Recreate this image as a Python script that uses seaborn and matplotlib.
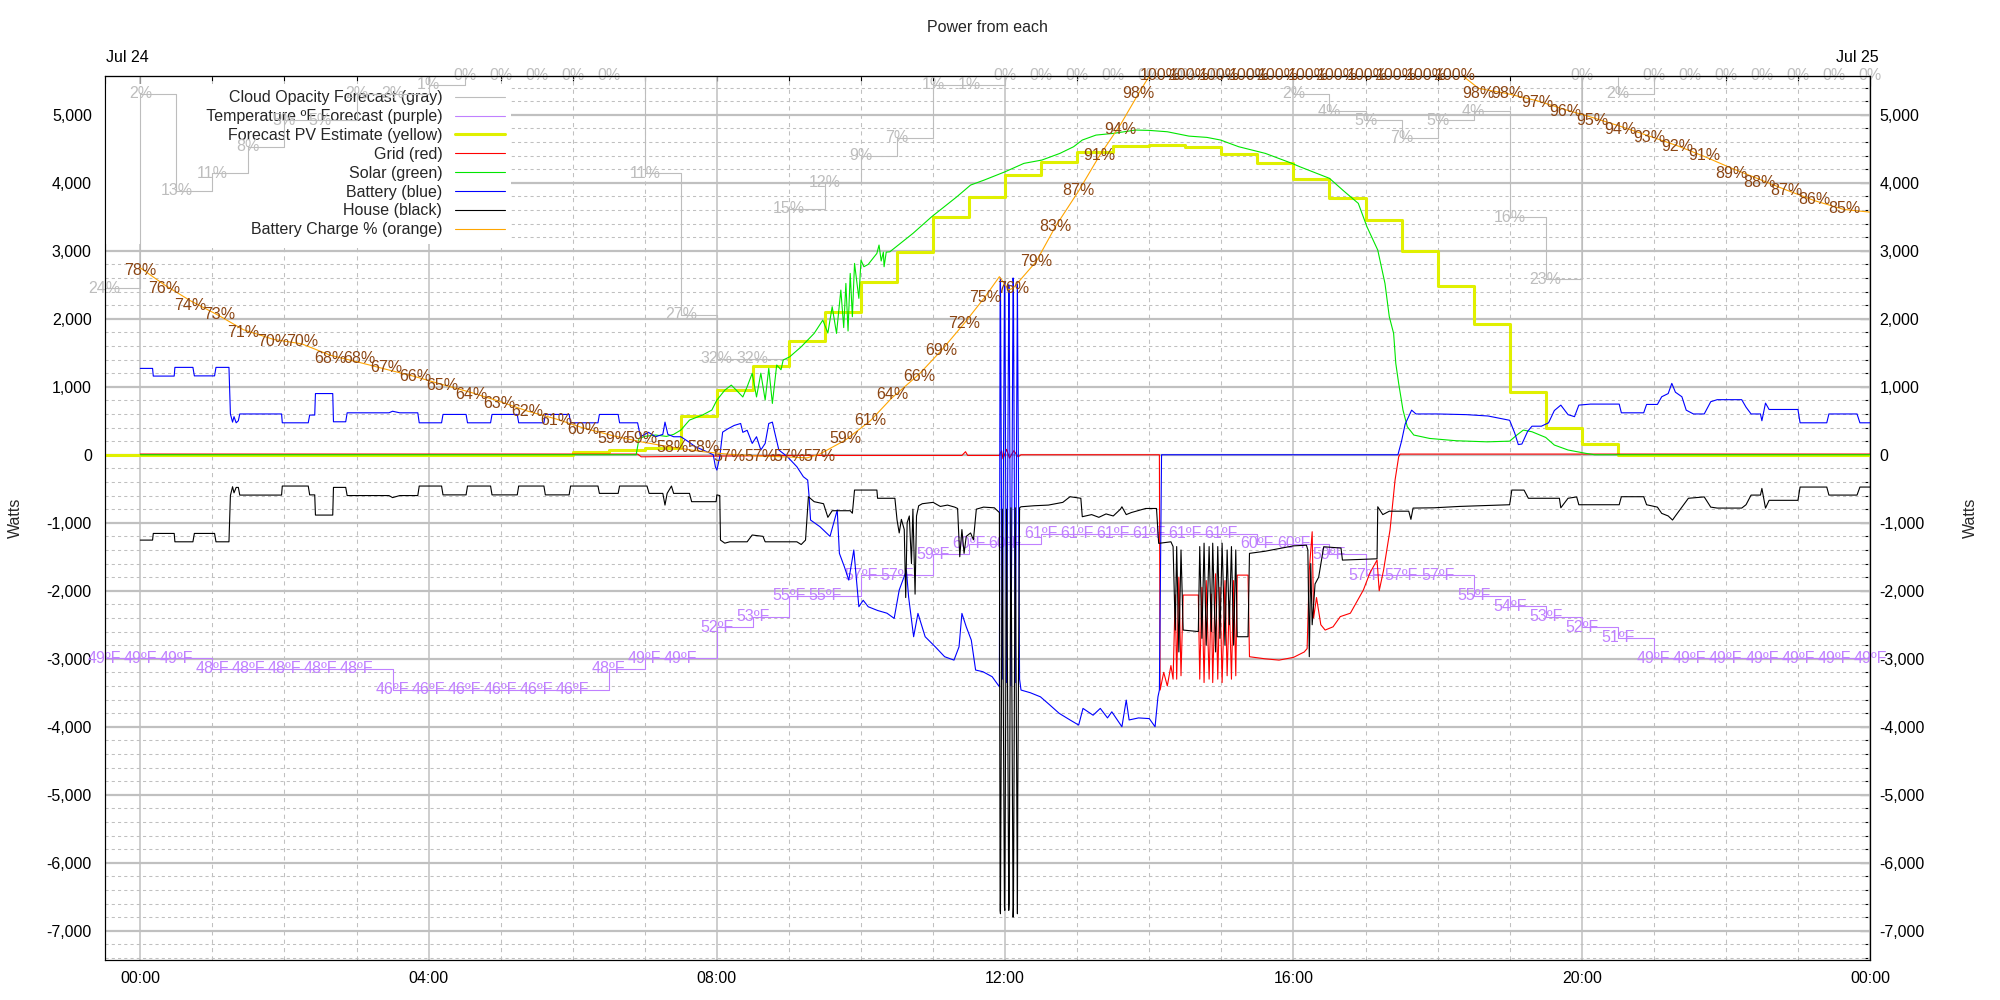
import matplotlib
matplotlib.use("Agg")
import matplotlib.pyplot as plt
import matplotlib.ticker as mticker
import matplotlib.transforms as mtransforms
import seaborn as sns

sns.set_theme(style="white")
plt.rcParams['font.family'] = ['Liberation Sans', 'DejaVu Sans']
plt.rcParams['axes.unicode_minus'] = False
FS = 11.5

# ------------------------------------------------------------------ data
forecast_hours = [-0.5, 0.0, 0.5, 1.0, 1.5, 2.0, 2.5, 3.0, 3.5, 4.0, 4.5, 5.0, 5.5, 6.0, 6.5,
                  7.0, 7.5, 8.0, 8.5, 9.0, 9.5, 10.0, 10.5, 11.0, 11.5, 12.0, 12.5, 13.0, 13.5,
                  14.0, 14.5, 15.0, 15.5, 16.0, 16.5, 17.0, 17.5, 18.0, 18.5, 19.0, 19.5, 20.0,
                  20.5, 21.0, 21.5, 22.0, 22.5, 23.0, 23.5, 24.0]
cloud_pct = [24, 2, 13, 11, 8, 5, 5, 2, 2, 1, 0, 0, 0, 0, 0, 11, 27, 32, 32, 15, 12, 9, 7, 1, 1,
             0, 0, 0, 0, 0, 0, 0, 0, 2, 4, 5, 7, 5, 4, 16, 23, 0, 2, 0, 0, 0, 0, 0, 0, 0]
temp_f = [49, 49, 49, 48, 48, 48, 48, 48, 46, 46, 46, 46, 46, 46, 48, 49, 49, 52, 53, 55, 55, 57,
          57, 59, 60, 60, 61, 61, 61, 61, 61, 61, 60, 60, 59, 57, 57, 57, 55, 54, 53, 52, 51, 49,
          49, 49, 49, 49, 49, 49]
forecast_pv = [0, 0, 0, 0, 0, 0, 0, 0, 0, 0, 0, 0, 0, 35, 70, 100, 574, 948, 1309, 1672, 2103,
               2544, 2985, 3495, 3794, 4113, 4304, 4447, 4540, 4559, 4529, 4426, 4290, 4054, 3775,
               3451, 3000, 2485, 1918, 927, 397, 153, 0, 0, 0, 0, 0, 0, 0, 0]

solar = [(0.00, 0), (6.88, 0), (6.92, 240), (7.00, 270), (7.15, 290), (7.30, 270), (7.40, 300),
         (7.50, 363), (7.62, 510), (7.80, 584), (7.93, 657), (8.00, 804), (8.11, 950), (8.20, 1024),
         (8.27, 950), (8.36, 850), (8.42, 1000), (8.49, 1197), (8.55, 850), (8.61, 1200), (8.67, 804),
         (8.72, 1271), (8.77, 755), (8.83, 1320), (8.89, 1250), (8.92, 1393), (9.01, 1440), (9.17, 1588),
         (9.35, 1785), (9.47, 1980), (9.54, 1790), (9.60, 2177), (9.66, 1785), (9.72, 2422), (9.76, 1870),
         (9.79, 2520), (9.82, 1820), (9.85, 2667), (9.88, 2030), (9.91, 2814), (9.97, 2300), (10.00, 2863),
         (10.04, 2765), (10.10, 2800), (10.22, 2961), (10.25, 3084), (10.28, 2850), (10.31, 2980),
         (10.32, 2765), (10.35, 2980), (10.40, 2985), (10.72, 3255), (10.98, 3500), (11.33, 3794),
         (11.52, 3966), (11.71, 4040), (12.00, 4162), (12.26, 4285), (12.51, 4334), (12.76, 4432),
         (12.95, 4530), (13.07, 4628), (13.26, 4701), (13.50, 4726), (13.81, 4775), (14.00, 4770),
         (14.25, 4750), (14.55, 4686), (14.80, 4667), (14.99, 4628), (15.24, 4530), (15.61, 4432),
         (15.98, 4285), (16.09, 4235), (16.50, 4065), (16.71, 3868), (16.90, 3697), (17.02, 3353),
         (17.17, 3010), (17.27, 2520), (17.33, 2030), (17.39, 1785), (17.42, 1344), (17.46, 1050),
         (17.52, 657), (17.58, 412), (17.67, 290), (17.89, 240), (18.26, 206), (18.69, 190), (19.00, 200),
         (19.10, 290), (19.19, 363), (19.31, 338), (19.50, 255), (19.62, 143), (19.81, 70), (20.06, 20),
         (20.18, 0), (24.00, 0)]

battery = [(0.00, 1270), (0.17, 1270), (0.18, 1157), (0.47, 1157), (0.48, 1285), (0.73, 1285),
           (0.75, 1160), (1.03, 1160), (1.05, 1285), (1.23, 1285), (1.25, 600), (1.28, 480), (1.30, 560),
           (1.33, 470), (1.36, 500), (1.38, 600), (1.96, 600), (1.97, 470), (2.33, 470), (2.35, 584),
           (2.42, 584), (2.43, 900), (2.67, 900), (2.68, 485), (2.85, 485), (2.87, 617), (3.45, 617),
           (3.50, 640), (3.60, 617), (3.85, 617), (3.87, 470), (4.18, 470), (4.20, 593), (4.52, 593),
           (4.54, 470), (4.86, 470), (4.88, 593), (5.23, 593), (5.25, 470), (5.60, 470), (5.62, 593),
           (5.95, 593), (5.97, 470), (6.35, 470), (6.37, 593), (6.63, 593), (6.65, 470), (6.90, 470),
           (6.94, 265), (7.05, 330), (7.15, 265), (7.25, 300), (7.28, 480), (7.32, 300), (7.40, 265),
           (7.50, 265), (7.60, 196), (7.70, 120), (7.85, 50), (7.95, 0), (7.98, -180), (8.00, -225),
           (8.04, -29), (8.08, 333), (8.15, 380), (8.24, 431), (8.33, 460), (8.36, 330), (8.42, 360),
           (8.49, 167), (8.55, 265), (8.61, 70), (8.67, 167), (8.72, 460), (8.77, 480), (8.80, 340),
           (8.86, 70), (8.98, -30), (9.11, -176), (9.20, -323), (9.26, -372), (9.28, -617), (9.30, -960),
           (9.43, -1058), (9.57, -1200), (9.67, -813), (9.70, -1450), (9.77, -1650), (9.83, -1843),
           (9.90, -1400), (9.97, -2235), (10.03, -2140), (10.10, -2235), (10.23, -2290), (10.36, -2330),
           (10.46, -2406), (10.53, -1990), (10.63, -1700), (10.66, -2088), (10.73, -2676), (10.79, -2333),
           (10.89, -2676), (11.03, -2824), (11.16, -2970), (11.29, -3020), (11.36, -2824), (11.40, -2333),
           (11.46, -2530), (11.53, -2725), (11.59, -3166), (11.69, -3190), (11.82, -3264), (11.92, -3412),
           (11.93, 2500), (11.935, 2600), (11.96, -3300), (11.99, 2450), (11.995, 2550), (12.02, -3350),
           (12.05, 2500), (12.055, 2400), (12.08, -3400), (12.11, 2600), (12.115, 2450), (12.14, -3350),
           (12.17, 2550), (12.175, 1500), (12.20, -3300), (12.22, -3460), (12.35, -3500), (12.49, -3560),
           (12.62, -3680), (12.75, -3803), (12.90, -3900), (13.02, -3975), (13.08, -3730), (13.22, -3830),
           (13.32, -3730), (13.42, -3870), (13.48, -3780), (13.62, -4000), (13.68, -3608), (13.72, -3900),
           (13.85, -3870), (14.00, -3880), (14.08, -4000), (14.12, -3560), (14.14, -3460), (14.17, 0),
           (17.45, 0), (17.50, 200), (17.55, 450), (17.64, 656), (17.70, 600), (18.00, 600), (18.40, 590),
           (18.70, 570), (19.00, 507), (19.07, 320), (19.12, 150), (19.17, 158), (19.25, 345), (19.31, 420),
           (19.44, 420), (19.54, 470), (19.62, 650), (19.71, 730), (19.81, 590), (19.90, 560), (19.96, 730),
           (20.12, 745), (20.52, 745), (20.55, 617), (20.86, 617), (20.90, 740), (21.05, 740), (21.11, 853),
           (21.20, 900), (21.25, 1050), (21.30, 920), (21.39, 853), (21.45, 656), (21.55, 600), (21.70, 600),
           (21.79, 780), (21.88, 810), (22.22, 810), (22.28, 700), (22.35, 600), (22.48, 600), (22.50, 500),
           (22.55, 760), (22.60, 666), (23.00, 666), (23.03, 470), (23.40, 470), (23.43, 600), (23.82, 600),
           (23.86, 470), (24.00, 470)]

house = [(0.00, -1255), (0.17, -1255), (0.18, -1157), (0.47, -1157), (0.48, -1280), (0.73, -1280),
         (0.75, -1157), (1.03, -1157), (1.05, -1280), (1.23, -1280), (1.25, -600), (1.28, -470),
         (1.30, -560), (1.33, -480), (1.36, -480), (1.38, -593), (1.96, -593), (1.97, -460), (2.33, -460),
         (2.35, -590), (2.42, -590), (2.43, -887), (2.67, -887), (2.68, -480), (2.85, -480), (2.87, -600),
         (3.45, -600), (3.50, -630), (3.60, -600), (3.85, -600), (3.87, -460), (4.18, -460), (4.20, -590),
         (4.52, -590), (4.54, -460), (4.86, -460), (4.88, -590), (5.23, -590), (5.25, -460), (5.60, -460),
         (5.62, -590), (5.95, -590), (5.97, -460), (6.35, -460), (6.37, -568), (6.63, -568), (6.65, -460),
         (7.03, -460), (7.06, -568), (7.25, -568), (7.28, -740), (7.31, -568), (7.37, -460), (7.40, -568),
         (7.62, -568), (7.65, -690), (7.99, -690), (8.00, -590), (8.04, -600), (8.05, -1255), (8.11, -1300),
         (8.18, -1280), (8.42, -1280), (8.49, -1180), (8.64, -1200), (8.67, -1280), (9.11, -1280),
         (9.17, -1320), (9.23, -1255), (9.27, -617), (9.35, -690), (9.48, -720), (9.54, -920), (9.60, -823),
         (9.85, -823), (9.88, -860), (9.91, -519), (10.22, -519), (10.23, -640), (10.47, -640), (10.50, -960),
         (10.53, -1150), (10.56, -950), (10.60, -1100), (10.62, -2100), (10.64, -1000), (10.67, -900),
         (10.70, -1600), (10.72, -800), (10.75, -2050), (10.77, -900), (10.80, -750), (10.85, -720),
         (11.00, -700), (11.10, -760), (11.20, -740), (11.30, -770), (11.34, -790), (11.37, -1500),
         (11.40, -1100), (11.43, -1450), (11.46, -1200), (11.52, -1150), (11.56, -1250), (11.60, -800),
         (11.70, -770), (11.85, -780), (11.92, -850), (11.93, -6700), (11.935, -6750), (11.96, -800),
         (11.99, -6650), (11.995, -6700), (12.02, -800), (12.05, -6700), (12.055, -6600), (12.08, -780),
         (12.11, -6800), (12.115, -6650), (12.14, -780), (12.17, -6750), (12.175, -5000), (12.20, -780),
         (12.22, -765), (12.40, -750), (12.60, -740), (12.80, -700), (12.90, -617), (13.05, -640),
         (13.07, -911), (13.20, -880), (13.30, -920), (13.40, -870), (13.50, -900), (13.60, -800),
         (13.62, -765), (13.68, -880), (13.75, -850), (13.85, -820), (13.95, -790), (14.10, -790),
         (14.13, -1303), (14.30, -1280), (14.33, -1350), (14.36, -2578), (14.38, -1350), (14.41, -2900),
         (14.44, -1400), (14.47, -2578), (14.68, -2600), (14.70, -1350), (14.73, -2700), (14.76, -1300),
         (14.79, -2800), (14.83, -1350), (14.86, -2600), (14.88, -1300), (14.92, -2900), (14.95, -1350),
         (14.98, -2700), (15.01, -1300), (15.05, -2800), (15.08, -1400), (15.11, -2500), (15.14, -1350),
         (15.17, -2800), (15.20, -1400), (15.22, -2676), (15.37, -2676), (15.39, -1450), (15.60, -1420),
         (15.80, -1380), (16.00, -1340), (16.18, -1330), (16.20, -1400), (16.22, -2970), (16.24, -1600),
         (16.26, -2500), (16.30, -1900), (16.35, -1800), (16.42, -1353), (16.66, -1372), (16.68, -1549),
         (17.16, -1530), (17.17, -765), (17.24, -880), (17.33, -830), (17.60, -830), (17.63, -950),
         (17.66, -784), (17.95, -780), (18.30, -760), (18.57, -750), (19.00, -735), (19.03, -519),
         (19.20, -520), (19.26, -640), (19.69, -640), (19.71, -780), (19.81, -640), (19.93, -620),
         (19.96, -735), (20.52, -735), (20.55, -617), (20.86, -617), (20.90, -735), (21.05, -770),
         (21.11, -862), (21.20, -900), (21.26, -960), (21.30, -900), (21.39, -770), (21.48, -640),
         (21.70, -620), (21.79, -770), (21.88, -784), (22.22, -784), (22.28, -735), (22.35, -593),
         (22.48, -593), (22.50, -495), (22.55, -784), (22.60, -670), (23.00, -670), (23.03, -475),
         (23.40, -475), (23.43, -593), (23.82, -593), (23.86, -475), (24.00, -475)]

grid_power = [(0.00, 10), (6.90, 10), (6.95, -30), (8.00, -20), (9.00, -10), (10.00, -10), (11.40, -10),
              (11.45, 45), (11.48, -10), (11.92, -10), (11.95, 60), (11.97, -60), (12.02, 80), (12.06, -50),
              (12.12, 60), (12.18, -30), (12.22, 0), (14.14, 0), (14.15, -3460), (14.20, -3200),
              (14.25, -3400), (14.30, -3100), (14.33, -3300), (14.36, -2060), (14.38, -3300), (14.41, -1800),
              (14.44, -3250), (14.47, -2063), (14.68, -2063), (14.70, -3300), (14.73, -1950), (14.76, -3350),
              (14.79, -1850), (14.83, -3300), (14.86, -2050), (14.88, -3350), (14.92, -1750), (14.95, -3300),
              (14.98, -1950), (15.01, -3350), (15.05, -1850), (15.08, -3250), (15.11, -2150), (15.14, -3300),
              (15.17, -1850), (15.20, -3250), (15.22, -1770), (15.37, -1770), (15.39, -2970), (15.60, -3000),
              (15.80, -3020), (16.00, -2980), (16.15, -2900), (16.19, -2850), (16.22, -1700), (16.26, -1132),
              (16.28, -2400), (16.32, -2100), (16.38, -2500), (16.44, -2578), (16.55, -2530), (16.65, -2380),
              (16.79, -2330), (16.88, -2160), (16.97, -1990), (17.06, -1740), (17.16, -1549), (17.19, -2000),
              (17.25, -1700), (17.34, -1107), (17.41, -372), (17.46, -30), (17.48, 10), (24.00, 10)]

charge_line = [(0.00, 78.3), (0.33, 76.4), (0.69, 74.6), (1.09, 72.9), (1.43, 71.3), (1.85, 70.2),
               (2.24, 69.7), (2.64, 68.4), (3.04, 67.6), (3.42, 66.8), (3.81, 66.0), (4.19, 65.1),
               (4.59, 64.2), (4.98, 63.2), (5.37, 62.1), (5.77, 61.2), (6.14, 60.2), (6.56, 59.3),
               (6.96, 58.6), (7.38, 58.0), (7.81, 57.5), (8.18, 57.2), (8.61, 57.0), (9.01, 56.9),
               (9.25, 56.8), (9.42, 57.2), (9.78, 58.8), (10.13, 61.0), (10.43, 63.6), (10.81, 66.3),
               (11.12, 69.0), (11.43, 72.0), (11.72, 75.0), (11.92, 77.3), (12.05, 75.8), (12.11, 76.0),
               (12.43, 79.0), (12.70, 83.0), (13.02, 87.0), (13.31, 91.0), (13.60, 94.5), (13.85, 98.0),
               (14.00, 100), (18.35, 100), (18.57, 98.6), (18.97, 98.0), (19.38, 97.2), (19.77, 96.2),
               (20.15, 95.3), (20.54, 94.3), (20.94, 93.2), (21.33, 92.1), (21.70, 90.9), (22.07, 89.6),
               (22.47, 88.3), (22.84, 87.1), (23.23, 85.9), (23.64, 84.9), (24.00, 84.6)]
charge_label_hours = [0.0, 0.33, 0.69, 1.09, 1.43, 1.85, 2.24, 2.64, 3.04, 3.42, 3.81, 4.19, 4.59, 4.98,
                      5.37, 5.77, 6.14, 6.56, 6.96, 7.38, 7.81, 8.18, 8.61, 9.01, 9.42, 9.78, 10.13,
                      10.43, 10.81, 11.12, 11.43, 11.72, 12.11, 12.43, 12.7, 13.02, 13.31, 13.6, 13.85,
                      14.15, 14.56, 14.97, 15.38, 15.79, 16.2, 16.61, 17.02, 17.43, 17.84, 18.25, 18.57,
                      18.97, 19.38, 19.77, 20.15, 20.54, 20.94, 21.33, 21.7, 22.07, 22.47, 22.84, 23.23,
                      23.64]
charge_label_pct = [78, 76, 74, 73, 71, 70, 70, 68, 68, 67, 66, 65, 64, 63, 62, 61, 60, 59, 59, 58, 58,
                    57, 57, 57, 57, 59, 61, 64, 66, 69, 72, 75, 76, 79, 83, 87, 91, 94, 98, 100, 100,
                    100, 100, 100, 100, 100, 100, 100, 100, 100, 98, 98, 97, 96, 95, 94, 93, 92, 91, 89,
                    88, 87, 86, 85]

x_tick_hours = [0, 4, 8, 12, 16, 20, 24]
x_tick_labels = ["00:00", "04:00", "08:00", "12:00", "16:00", "20:00", "00:00"]
top_tick_hours = [0, 24]
top_tick_labels = ["Jul 24", "Jul 25"]
legend_labels = ["Cloud Opacity Forecast (gray)", "Temperature \u00baF Forecast (purple)",
                 "Forecast PV Estimate (yellow)", "Grid (red)", "Solar (green)", "Battery (blue)",
                 "House (black)", "Battery Charge % (orange)"]

# ------------------------------------------------------------------ style
C_CLOUD, C_TEMP, C_FC = '#bdbdbd', '#c080ff', '#e0f000'
C_GRID, C_SOLAR, C_BATT, C_HOUSE = '#ff0000', '#00e600', '#0000ff', '#000000'
C_CHG, C_CHG_TXT = '#ffa500', '#8b4513'
LW = 0.8
XMIN, XMAX = -0.49, 24.0
YMIN, YMAX = -7430, 5570

fig = plt.figure(figsize=(20, 10), dpi=100)
rect = [105 / 2000, 40 / 1000, 1765 / 2000, 884 / 1000]
ax = fig.add_axes(rect)
ax.set_xlim(XMIN, XMAX)
ax.set_ylim(YMIN, YMAX)


def overlay(sharey=None):
    o = fig.add_axes(rect, sharex=ax, sharey=sharey)
    o.patch.set_visible(False)
    o.axis('off')
    return o


ax_cloud = overlay()
ax_temp = overlay()
ax_w = overlay(sharey=ax)
ax_chg = overlay()


def unzip(pairs):
    return [p[0] for p in pairs], [p[1] for p in pairs]


def line(axis, x, y, color, lw=LW, **kw):
    sns.lineplot(x=x, y=y, ax=axis, color=color, lw=lw, estimator=None, sort=False,
                 legend=False, **kw)
    return axis.lines[-1]


h_cloud = line(ax_cloud, forecast_hours, cloud_pct, C_CLOUD, drawstyle='steps-post')
for hh, v in zip(forecast_hours, cloud_pct):
    ax_cloud.text(hh, v, f"{v}%", ha='center', va='center', color=C_CLOUD, fontsize=FS, clip_on=False)

h_temp = line(ax_temp, forecast_hours, temp_f, C_TEMP, drawstyle='steps-post')
for hh, v in zip(forecast_hours, temp_f):
    ax_temp.text(hh, v, f"{v}\u00baF", ha='center', va='center', color=C_TEMP, fontsize=FS, clip_on=False)

h_fc = line(ax_w, forecast_hours, forecast_pv, C_FC, lw=2.2, drawstyle='steps-post')
h_grid = line(ax_w, *unzip(grid_power), C_GRID)
h_solar = line(ax_w, *unzip(solar), C_SOLAR)
h_batt = line(ax_w, *unzip(battery), C_BATT)
h_house = line(ax_w, *unzip(house), C_HOUSE)

h_chg = line(ax_chg, *unzip(charge_line), C_CHG)
for hh, v in zip(charge_label_hours, charge_label_pct):
    ax_chg.text(hh, v, f"{v}%", ha='center', va='center', color=C_CHG_TXT, fontsize=FS, clip_on=False)

for o in (ax_cloud, ax_temp, ax_w, ax_chg):
    o.set_xlim(XMIN, XMAX)
ax_cloud.set_ylim(100, 0)
ax_temp.set_ylim(20, 105)
ax_chg.set_ylim(0, 100)
ax.set_ylim(YMIN, YMAX)

# border drawn on top of everything
ax_chg.axis('on')
ax_chg.tick_params(which='both', bottom=False, left=False, top=False, right=False,
                   labelbottom=False, labelleft=False)
ax_chg.grid(False)
for s in ax_chg.spines.values():
    s.set_color('black')
    s.set_linewidth(0.8)

# ------------------------------------------------------------------ axes/grid
fmt = mticker.FuncFormatter(lambda v, p: f"{int(round(v)):,}")
ax.xaxis.set_major_locator(mticker.FixedLocator(x_tick_hours))
ax.set_xticklabels(x_tick_labels)
ax.xaxis.set_minor_locator(mticker.MultipleLocator(1))
ax.yaxis.set_major_locator(mticker.MultipleLocator(1000))
ax.yaxis.set_minor_locator(mticker.MultipleLocator(200))
ax.yaxis.set_major_formatter(fmt)
ax.set_axisbelow(True)
ax.yaxis.grid(True, which='major', color='#c0c0c0', lw=1.6, ls='-')
ax.yaxis.grid(True, which='minor', color='#c0c0c0', lw=0.75, ls=(0, (3, 3)))
ax.xaxis.grid(True, which='major', color='#c0c0c0', lw=1.1, ls='-')
ax.xaxis.grid(True, which='minor', color='#c0c0c0', lw=0.75, ls=(0, (4, 4)))
ax.tick_params(which='both', direction='in', colors='black', labelsize=FS, width=0.8,
               top=False, right=False, labelcolor='black')
ax.tick_params(which='major', length=7.5)
ax.tick_params(which='minor', length=3.8)
ax.tick_params(axis='y', pad=9.5)
ax.tick_params(axis='x', pad=8)
for s in ax.spines.values():
    s.set_color('black')
    s.set_linewidth(0.8)

secy = ax.secondary_yaxis('right')
secy.yaxis.set_major_locator(mticker.MultipleLocator(1000))
secy.yaxis.set_minor_locator(mticker.MultipleLocator(200))
secy.yaxis.set_major_formatter(fmt)
secy.tick_params(which='both', direction='in', labelsize=FS, width=0.8, pad=7, colors='black')
secy.tick_params(which='major', length=7.5)
secy.tick_params(which='minor', length=3.8)
secy.spines['right'].set_linewidth(0.8)

secx = ax.secondary_xaxis('top')
secx.set_xticks(top_tick_hours, labels=top_tick_labels)
secx.xaxis.set_minor_locator(mticker.MultipleLocator(1))
secx.tick_params(which='both', direction='in', labelsize=FS, width=0.8, pad=8, colors='black')
secx.tick_params(which='major', length=7.5)
secx.tick_params(which='minor', length=3.8)
secx.spines['top'].set_linewidth(0.8)
shift = mtransforms.ScaledTranslation(-13 / 100, 0, fig.dpi_scale_trans)
for lab in secx.get_xticklabels():
    lab.set_transform(lab.get_transform() + shift)

ax.set_ylabel('Watts', fontsize=FS)
ax.yaxis.set_label_coords(-82 / 1765, 0.5)
secy.set_ylabel('Watts', fontsize=FS)
secy.yaxis.set_label_coords(1 + 93 / 1765, 0.5, transform=ax.transAxes)

ax.set_title("Power from each", fontsize=FS, y=(960 - 27) / 884, va='center', pad=0)

# ------------------------------------------------------------------ legend
# the key box of the reference reaches the left border: pad the widest entry with blanks
padded_labels = list(legend_labels)
padded_labels[1] = " " * 21 + padded_labels[1]
handles = [h_cloud, h_temp, h_fc, h_grid, h_solar, h_batt, h_house, h_chg]
leg = ax.legend(handles, padded_labels, loc='upper right', bbox_to_anchor=(511 / 2000, 1 - 84 / 1000),
                bbox_transform=fig.transFigure, markerfirst=False, frameon=True, fancybox=False,
                framealpha=1, facecolor='white', edgecolor='none', borderaxespad=0, borderpad=0.4,
                handlelength=3.1, handletextpad=0.8, labelspacing=0.24, fontsize=FS)
leg.set_zorder(3)

fig.savefig("out.png", dpi=100)
